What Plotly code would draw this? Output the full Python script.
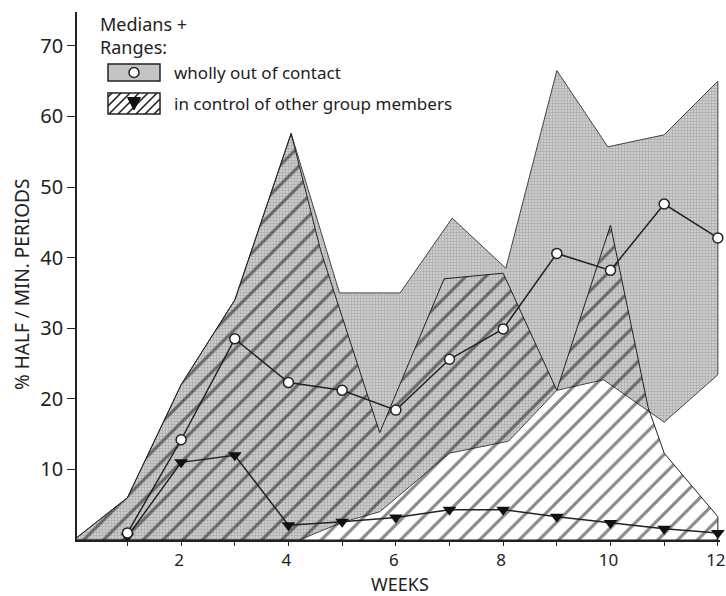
import plotly.graph_objects as go

# ---------------- data ----------------
weeks = list(range(1, 13))
out_contact_median = [1, 14.2, 28.5, 22.3, 21.2, 18.4, 25.6, 29.9, 40.6, 38.2, 47.6, 42.8]
in_control_median = [0.5, 11, 12, 2.1, 2.6, 3.2, 4.3, 4.3, 3.3, 2.4, 1.6, 1.0]

out_upper_x = [0, 1, 2, 3, 4.05, 4.95, 6.08, 7.05, 8.05, 9, 9.95, 11, 12]
out_upper_y = [0, 6, 22, 34, 57.6, 35, 35, 45.6, 38.5, 66.5, 55.7, 57.4, 65]
out_lower_x = [0, 4.2, 5, 5.7, 7, 8.1, 9, 9.87, 11, 12]
out_lower_y = [0, 0, 2.5, 4, 12.3, 14, 21.2, 22.7, 16.7, 23.4]

ctrl_upper_x = [0, 1, 2, 3, 4.05, 4.6, 5.7, 6.9, 8, 9, 10, 10.7, 11, 12]
ctrl_upper_y = [0, 6, 22, 34, 57.6, 41, 15.2, 37, 37.8, 21.2, 44.6, 18.8, 12.3, 3.3]
ctrl_lower_x = [0, 12]
ctrl_lower_y = [0, 0]

y_ticks = [10, 20, 30, 40, 50, 60, 70]
x_ticks = weeks
x_ticklabels = [str(w) if w % 2 == 0 else "" for w in weeks]

x_title = "WEEKS"
y_title = "% HALF / MIN. PERIODS"
legend_title = "Medians +<br>Ranges:"
name_out = "wholly out of contact"
name_ctrl = "in control of other group members"

# ---------------- styling ----------------
FONT = "Noto Sans"
INK = "#222222"
W, H = 726, 596
L, R, T, B = 77, 6, 12, 56
PW, PH = W - L - R, H - T - B


def px(xp):
    return (xp - L) / PW


def py(yp):
    return (H - B - yp) / PH


fig = go.Figure()

# gray range (wholly out of contact)
fig.add_trace(go.Scatter(
    x=out_upper_x + out_lower_x[::-1],
    y=out_upper_y + out_lower_y[::-1],
    fill="toself", mode="lines",
    line=dict(color="#444444", width=1),
    fillcolor="#c4c4c4",
    fillpattern=dict(shape=".", fgcolor="#808080", bgcolor="#d6d6d6", size=3, solidity=0.5),
    hoverinfo="skip", showlegend=False,
))

# hatched range (in control)
fig.add_trace(go.Scatter(
    x=ctrl_upper_x + ctrl_lower_x[::-1],
    y=ctrl_upper_y + ctrl_lower_y[::-1],
    fill="toself", mode="lines",
    line=dict(color="#222222", width=1),
    fillcolor="rgba(0,0,0,0)",
    fillpattern=dict(shape="/", fgcolor="#111111", bgcolor="rgba(0,0,0,0)", size=14, solidity=0.22),
    hoverinfo="skip", showlegend=False,
))

# medians
fig.add_trace(go.Scatter(
    x=weeks, y=in_control_median, mode="lines+markers",
    line=dict(color="#222222", width=1.5),
    marker=dict(symbol="triangle-down", size=12, color="#111111"),
    cliponaxis=False, showlegend=False, name=name_ctrl,
))
fig.add_trace(go.Scatter(
    x=weeks, y=out_contact_median, mode="lines+markers",
    line=dict(color="#222222", width=1.5),
    marker=dict(symbol="circle", size=10, color="white", line=dict(color="#222222", width=1.5)),
    cliponaxis=False, showlegend=False, name=name_out,
))

# ---------------- legend drawn as decoration ----------------
shapes = []
annotations = []

# box 1: gray
bx0, bx1 = 108, 160
b1y0, b1y1 = 64, 81
shapes.append(dict(type="rect", xref="paper", yref="paper",
                   x0=px(bx0), x1=px(bx1), y0=py(b1y1), y1=py(b1y0),
                   fillcolor="#c4c4c4", line=dict(color="#222", width=1.5)))
shapes.append(dict(type="circle", xref="paper", yref="paper",
                   x0=px(129), x1=px(139), y0=py(77.5), y1=py(67.5),
                   fillcolor="white", line=dict(color="#222", width=1.5)))

# box 2: hatched
b2y0, b2y1 = 93, 114
shapes.append(dict(type="rect", xref="paper", yref="paper",
                   x0=px(bx0), x1=px(bx1), y0=py(b2y1), y1=py(b2y0),
                   fillcolor="white", line=dict(color="#222", width=1.5)))
step = 9
c = bx0 + b2y0 + 4
path = ""
while c < bx1 + b2y1:
    xa = max(bx0, c - b2y1)
    xb = min(bx1, c - b2y0)
    if xb > xa:
        path += "M{:.5f},{:.5f} L{:.5f},{:.5f} ".format(px(xa), py(c - xa), px(xb), py(c - xb))
    c += step
shapes.append(dict(type="path", xref="paper", yref="paper", path=path,
                   line=dict(color="#222", width=1.6)))
shapes.append(dict(type="path", xref="paper", yref="paper",
                   path="M{:.5f},{:.5f} L{:.5f},{:.5f} L{:.5f},{:.5f} Z".format(
                       px(127.5), py(97.5), px(140.5), py(97.5), px(134), py(110)),
                   fillcolor="#111", line=dict(color="#111", width=1)))

annotations.append(dict(xref="paper", yref="paper", x=px(98), y=py(10),
                        xanchor="left", yanchor="top", align="left",
                        text=legend_title, showarrow=False,
                        font=dict(family=FONT, size=18, color=INK)))
annotations.append(dict(xref="paper", yref="paper", x=px(172), y=py(72),
                        xanchor="left", yanchor="middle",
                        text=name_out, showarrow=False,
                        font=dict(family=FONT, size=17, color=INK)))
annotations.append(dict(xref="paper", yref="paper", x=px(172), y=py(103),
                        xanchor="left", yanchor="middle",
                        text=name_ctrl, showarrow=False,
                        font=dict(family=FONT, size=17, color=INK)))
# axis titles
annotations.append(dict(xref="paper", yref="paper", x=px(400), y=py(597),
                        xanchor="center", yanchor="bottom", borderpad=0,
                        text=x_title, showarrow=False,
                        font=dict(family=FONT, size=18, color=INK)))
annotations.append(dict(xref="paper", yref="paper", x=px(22), y=py(285),
                        xanchor="center", yanchor="middle", textangle=-90,
                        text=y_title, showarrow=False,
                        font=dict(family=FONT, size=19, color=INK)))

fig.update_layout(
    width=W, height=H,
    margin=dict(l=L, r=R, t=T, b=B),
    paper_bgcolor="white", plot_bgcolor="white",
    font=dict(family=FONT, color=INK),
    shapes=shapes, annotations=annotations,
    showlegend=False,
    xaxis=dict(
        range=[0.06, 12.04], tickvals=x_ticks, ticktext=x_ticklabels,
        ticks="outside", ticklen=4, tickwidth=1.2, tickcolor=INK,
        showline=True, linecolor=INK, linewidth=2,
        showgrid=False, zeroline=False, ticklabeloverflow="allow",
        ticklabelshift=-2, automargin=False,
        tickfont=dict(family=FONT, size=17, color=INK),
    ),
    yaxis=dict(
        range=[0, 74.8], tickvals=y_ticks,
        ticks="outside", ticklen=8, tickwidth=1.2, tickcolor=INK,
        showline=True, linecolor=INK, linewidth=1.5,
        showgrid=False, zeroline=False, automargin=False,
        tickfont=dict(family=FONT, size=20, color=INK),
    ),
)

fig.write_html("out.html")
